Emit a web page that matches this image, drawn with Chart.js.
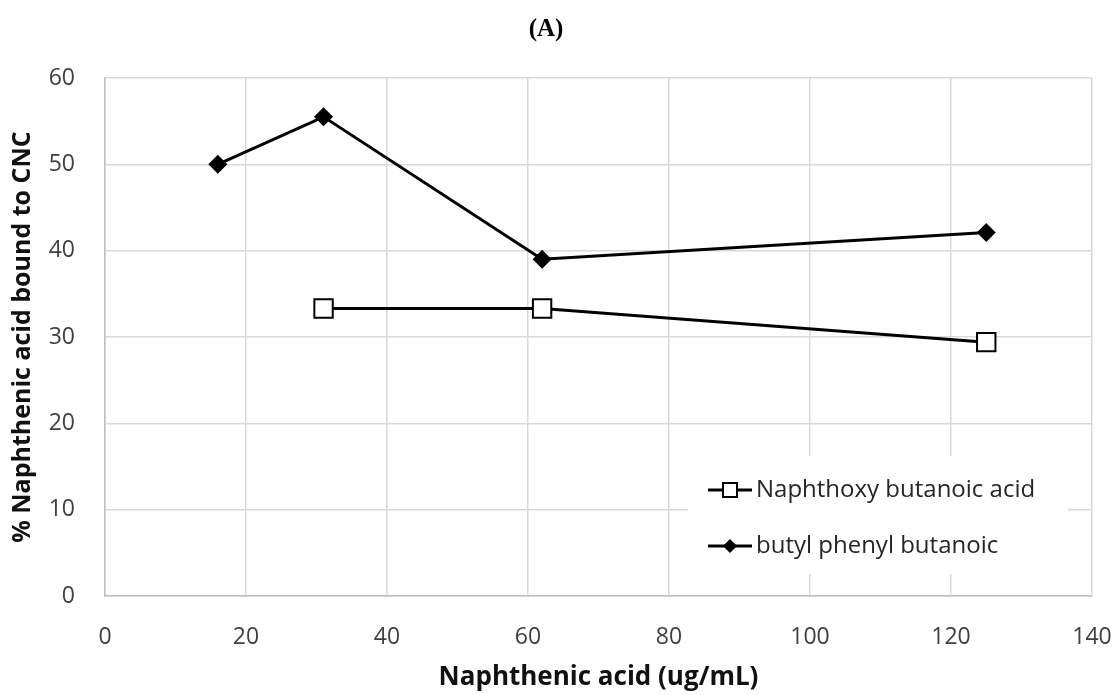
<!DOCTYPE html>
<html>
<head>
<meta charset="utf-8">
<script src="https://cdn.jsdelivr.net/npm/chart.js@4/dist/chart.umd.min.js"></script>
<style>
  html, body { margin: 0; padding: 0; background: #fff; }
  #wrap { width: 1118px; height: 695px; }
</style>
</head>
<body>
<div id="wrap"><canvas id="chart" width="1118" height="695"></canvas></div>
<script>
// values
const naphthoxyX = [31, 62, 125];
const naphthoxyY = [33.3, 33.3, 29.4];
const butylX = [16, 31, 62, 125];
const butylY = [50, 55.5, 39, 42.1];

const xTicks = [0, 20, 40, 60, 80, 100, 120, 140];
const yTicks = [0, 10, 20, 30, 40, 50, 60];

const toPoints = (xs, ys) => xs.map((x, i) => ({ x: x, y: ys[i] }));

const FONT = "'Open Sans', 'Noto Sans', sans-serif";

// legend drawn inside the plot, bottom right, on a white box
const insideLegend = {
  id: "insideLegend",
  afterDraw(chart) {
    const ctx = chart.ctx;
    const area = chart.chartArea;
    const boxX = area.right - 404;
    const boxY = area.bottom - 140;
    ctx.save();
    ctx.fillStyle = "#fff";
    ctx.fillRect(boxX, boxY, 380, 118);

    chart.data.datasets.forEach((ds, i) => {
      const y = boxY + 34 + i * 56;
      const x0 = boxX + 20;
      ctx.strokeStyle = "#000";
      ctx.lineWidth = 3;
      ctx.beginPath();
      ctx.moveTo(x0, y);
      ctx.lineTo(x0 + 44, y);
      ctx.stroke();

      const cx = x0 + 22;
      if (ds.pointStyle === "rect") {
        ctx.fillStyle = "#fff";
        ctx.lineWidth = 2;
        ctx.fillRect(cx - 7, y - 7, 14, 14);
        ctx.strokeRect(cx - 7, y - 7, 14, 14);
      } else {
        ctx.fillStyle = "#000";
        ctx.beginPath();
        ctx.moveTo(cx - 7, y);
        ctx.lineTo(cx, y - 7);
        ctx.lineTo(cx + 7, y);
        ctx.lineTo(cx, y + 7);
        ctx.closePath();
        ctx.fill();
      }

      ctx.fillStyle = "#262626";
      ctx.font = "24px " + FONT;
      ctx.textBaseline = "middle";
      ctx.textAlign = "left";
      ctx.fillText(ds.label, x0 + 48, y);
    });
    ctx.restore();
  },
};

const chart = new Chart(document.getElementById("chart"), {
  type: "scatter",
  data: {
    datasets: [
      {
        label: "Naphthoxy butanoic acid",
        data: toPoints(naphthoxyX, naphthoxyY),
        showLine: true,
        borderColor: "#000",
        borderWidth: 3,
        pointStyle: "rect",
        pointRadius: 13,
        pointBorderWidth: 2,
        pointBackgroundColor: "#fff",
        pointBorderColor: "#000",
      },
      {
        label: "butyl phenyl butanoic",
        data: toPoints(butylX, butylY),
        showLine: true,
        borderColor: "#000",
        borderWidth: 3,
        pointStyle: "rectRot",
        pointRadius: 9.5,
        pointBorderWidth: 0,
        pointBackgroundColor: "#000",
        pointBorderColor: "#000",
      },
    ],
  },
  options: {
    responsive: false,
    animation: false,
    layout: { padding: { left: 0, right: 26, top: 0, bottom: 0 } },
    plugins: {
      legend: { display: false },
      tooltip: { enabled: false },
      title: {
        display: true,
        text: "(A)",
        color: "#000",
        font: { family: "'Liberation Serif', 'DejaVu Serif', serif", size: 25, weight: "bold" },
        padding: { top: 15, bottom: 33 },
      },
    },
    scales: {
      x: {
        type: "linear",
        min: xTicks[0],
        max: xTicks[xTicks.length - 1],
        afterBuildTicks: (axis) => {
          axis.ticks = xTicks.map((v) => ({ value: v }));
        },
        afterFit: (axis) => {
          axis.height = 99;
          axis.paddingLeft = 0;
          axis.paddingRight = 0;
        },
        grid: { color: "#d9d9d9", lineWidth: 1.5, drawTicks: false },
        border: { color: "#bfbfbf", width: 1.5 },
        ticks: { color: "#404040", padding: 28, font: { family: FONT, size: 23 } },
        title: {
          display: true,
          text: "Naphthenic acid (ug/mL)",
          color: "#111",
          font: { family: FONT, size: 26, weight: "bold" },
          padding: { top: 0, bottom: 2 },
        },
      },
      y: {
        min: yTicks[0],
        max: yTicks[yTicks.length - 1],
        afterBuildTicks: (axis) => {
          axis.ticks = yTicks.map((v) => ({ value: v }));
        },
        afterFit: (axis) => {
          axis.width = 105;
          axis.paddingTop = 0;
          axis.paddingBottom = 0;
        },
        grid: { color: "#d9d9d9", lineWidth: 1.5, drawTicks: false },
        border: { color: "#bfbfbf", width: 1.5 },
        ticks: { color: "#404040", padding: 30, font: { family: FONT, size: 23 } },
        title: {
          display: true,
          text: "% Naphthenic acid bound to CNC",
          color: "#111",
          font: { family: FONT, size: 25, weight: "bold" },
          padding: { top: 8, bottom: 0 },
        },
      },
    },
  },
  plugins: [insideLegend],
});
</script>
</body>
</html>
